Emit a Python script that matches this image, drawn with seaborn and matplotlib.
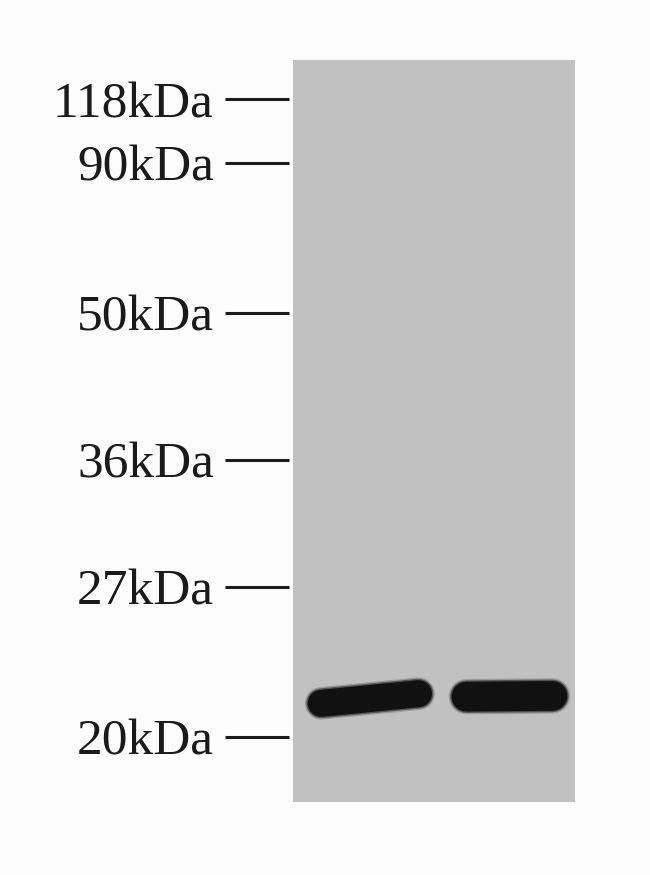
import numpy as np
import pandas as pd
import matplotlib
matplotlib.use("Agg")
import matplotlib.pyplot as plt
import seaborn as sns

# marker ladder: label and relative migration (0 = top of gel, 1 = bottom)
marker_labels = ["118kDa", "90kDa", "50kDa", "36kDa", "27kDa", "20kDa"]
marker_rf = [0.053, 0.139, 0.341, 0.539, 0.710, 0.912]

# sample bands: lane, left/right end of band (lane units), migration at each end
band_lane = [1, 1, 2, 2]
band_x = [0.20, 0.89, 1.23, 1.84]
band_rf = [0.867, 0.854, 0.858, 0.857]
band_thick = {1: 19.5, 2: 21.5}

sns.set_theme(style="white")
plt.rcParams["font.family"] = ["Liberation Serif", "DejaVu Serif"]

fig = plt.figure(figsize=(6.5, 8.75), dpi=100, facecolor="#fdfdfd")
ax = fig.add_axes([0.4508, 0.0834, 0.4338, 0.848])
ax.set_facecolor("#c1c1c1")
for s in ax.spines.values():
    s.set_visible(False)
ax.spines["left"].set_position(("outward", 3))

bands = pd.DataFrame({"lane": band_lane, "x": band_x, "rf": band_rf})

# soft edge then the dense core of each band
for extra, col, a in [(4, "#2a2a2a", 0.25), (2, "#1c1c1c", 0.55), (0, "#111111", 1.0)]:
    for lane, grp in bands.groupby("lane"):
        sns.lineplot(data=grp, x="x", y="rf", ax=ax, color=col, alpha=a,
                     linewidth=band_thick[lane] + extra, solid_capstyle="round",
                     legend=False, estimator=None, sort=False)

ax.set_xlim(0, 2)
ax.set_ylim(1, 0)
ax.set_xticks([])
ax.set_xlabel("")
ax.set_ylabel("")
ax.set_yticks(marker_rf)
ax.set_yticklabels(marker_labels)
ax.tick_params(axis="y", left=True, direction="out", length=46, width=2.2,
               color="#1a1a1a", pad=8, labelsize=37, labelcolor="#1a1a1a")

fig.savefig("out.png", dpi=100, facecolor=fig.get_facecolor())
